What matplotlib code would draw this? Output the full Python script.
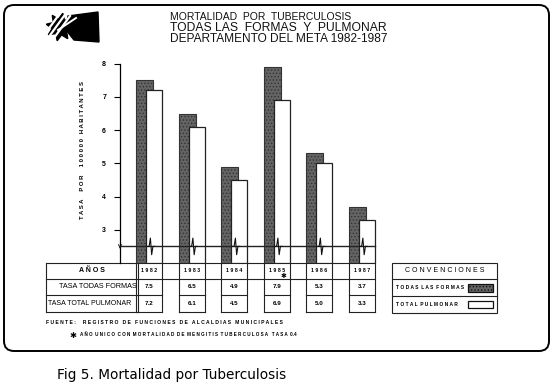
import matplotlib
matplotlib.use('Agg')
import matplotlib.pyplot as plt
from matplotlib.patches import FancyBboxPatch, Rectangle, Polygon
import numpy as np

# ---------------- data ----------------
years = ['1982', '1983', '1984', '1985', '1986', '1987']
tasa_todas = [7.5, 6.5, 4.9, 7.9, 5.3, 3.7]
tasa_pulmonar = [7.2, 6.1, 4.5, 6.9, 5.0, 3.3]
yticks = [3, 4, 5, 6, 7, 8]
title_lines = ['MORTALIDAD  POR  TUBERCULOSIS',
               'TODAS LAS  FORMAS  Y  PULMONAR',
               'DEPARTAMENTO DEL META 1982-1987']
row_labels = ['A Ñ O S', 'TASA TODAS FORMAS', 'TASA TOTAL PULMONAR']
legend_title = 'C O N V E N C I O N E S'
legend_labels = ['T O D A S  L A S  F O R M A S', 'T O T A L  P U L M O N A R']
ylabel = 'T A S A     P O R     1 0 0 0 0 0   H A B I T A N T E S'
fuente = 'F U E N T E :     R E G I S T R O   D E   F U N C I O N E S   D E   A L C A L D I A S   M U N I C I P A L E S'
nota = 'A Ñ O  U N I C O  C O N  M O R T A L I D A D  D E  M E N G I T I S  T U B E R C U L O S A   T A S A  0.4'
caption = 'Fig 5. Mortalidad por Tuberculosis'
star_year = '1985'

plt.rcParams['font.family'] = ['Liberation Sans', 'DejaVu Sans']

W, H = 552, 388
fig = plt.figure(figsize=(W / 100, H / 100), dpi=100)
fig.patch.set_facecolor('white')
ov = fig.add_axes([0, 0, 1, 1])
ov.set_xlim(0, W)
ov.set_ylim(H, 0)
ov.axis('off')

DARK = '#646464'
# ---------------- bar axes ----------------
ybase = 2.0
ax = fig.add_axes([120 / W, (H - 263) / H, (390 - 120) / W, (263 - 63.7) / H])
ax.set_xlim(-0.588, 5.765)
ax.set_ylim(ybase, 8.0)
ax.patch.set_alpha(0)
x = np.arange(len(years))
dw, wo, ww = 0.40, 0.215, 0.376
plt.rcParams['hatch.linewidth'] = 0.6
ax.bar(x, np.array(tasa_todas) - ybase, bottom=ybase, width=dw,
       facecolor=DARK, edgecolor='#333333', hatch='.....', linewidth=0.8, zorder=2)
ax.bar(x + wo, np.array(tasa_pulmonar) - ybase, bottom=ybase, width=ww,
       facecolor='white', edgecolor='#222222', linewidth=0.9, zorder=3)
for s in ['top', 'right', 'bottom']:
    ax.spines[s].set_visible(False)
ax.spines['left'].set_linewidth(0.9)
ax.set_yticks(yticks)
ax.set_yticklabels([str(t) for t in yticks], fontsize=5, fontweight='bold')
ax.tick_params(axis='y', length=4, width=0.8, pad=6)
ax.set_xticks([])
# axis break line and zigzags
ybr = 2.5
ax.plot([-0.588, x[-1] + wo + ww / 2], [ybr, ybr], color='#222222', lw=1.0, zorder=4, clip_on=False)
for xi in x:
    x0 = xi + wo - ww / 2 + 0.03
    ax.plot([x0, x0 + 0.04, x0 + 0.07, x0 + 0.10, x0 + 0.13, x0 + 0.17],
            [ybr, ybr, ybr + 0.25, ybr - 0.25, ybr, ybr], color='#111111', lw=0.8, zorder=5)
ax.plot([-0.62, -0.588, -0.556], [ybr + 0.05, ybr - 0.05, ybr + 0.05], color='#111111', lw=0.7, clip_on=False)


def to_ov(xd, yd):
    dx, dy = ax.transData.transform((xd, yd))
    return dx, H - dy


# ---------------- frame ----------------
ov.add_patch(FancyBboxPatch((4, 5), 545, 346, boxstyle='round,pad=0,rounding_size=10',
                            facecolor='none', edgecolor='black', linewidth=1.4))

# ---------------- logo ----------------
ov.add_patch(Polygon([(68, 16), (98, 12), (99, 42), (74, 40), (66, 30)], closed=True,
                     facecolor='black', edgecolor='black'))
star = []
for k in range(16):
    r = 14 if k % 2 == 0 else 8
    a = np.pi / 8 * k + 0.2
    star.append((60 + r * np.cos(a), 27 + r * np.sin(a)))
ov.add_patch(Polygon(star, closed=True, facecolor='black', edgecolor='black'))
for dxs in [-8, -2, 4]:
    ov.plot([50 + dxs, 66 + dxs], [38, 16], color='white', lw=1.6)
ov.plot([58, 76], [30, 18], color='white', lw=1.4)

# ---------------- titles ----------------
title_sizes = [7.5, 8.7, 8.6]
for i, t in enumerate(title_lines):
    ov.text(170, 17 + 11 * i, t, fontsize=title_sizes[i], ha='left', va='center', color='#111111')
ov.text(83, 150, ylabel, fontsize=4.3, rotation=90, ha='center', va='center', fontweight='bold')

# ---------------- table ----------------
rows_y = [263, 279, 295, 312]
lc = '#222222'
xl, xr_lab = 46, 138
right_end = to_ov(x[-1] + wo + ww / 2, ybase)[0]
for yy in rows_y[:2]:
    ov.plot([xl, right_end], [yy, yy], color=lc, lw=0.8)
for yy in rows_y[2:]:
    ov.plot([xl, xr_lab], [yy, yy], color=lc, lw=0.8)
ov.plot([xl, xl], [rows_y[0], rows_y[-1]], color=lc, lw=0.8)
ov.plot([xr_lab, xr_lab], [rows_y[0], rows_y[-1]], color=lc, lw=0.8)
ov.text(92, 271, row_labels[0], fontsize=5, ha='center', va='center', fontweight='bold')
ov.text(137, 287, row_labels[1], fontsize=5.2, ha='right', va='center')
ov.text(90, 303.5, row_labels[2], fontsize=5.0, ha='center', va='center')
for i, yr in enumerate(years):
    bl = to_ov(x[i] - dw / 2, ybase)[0]
    br = to_ov(x[i] + wo + ww / 2, ybase)[0]
    for xx in (bl, br):
        ov.plot([xx, xx], [rows_y[0], rows_y[-1]], color=lc, lw=0.8)
    for yy in rows_y[2:]:
        ov.plot([bl, br], [yy, yy], color=lc, lw=0.8)
    cx = (bl + br) / 2
    ov.text(cx, 271, ' '.join(yr), fontsize=3.8, ha='center', va='center', fontweight='bold')
    ov.text(cx, 287, '%.1f' % tasa_todas[i], fontsize=4.5, ha='center', va='center', fontweight='bold')
    ov.text(cx, 303.5, '%.1f' % tasa_pulmonar[i], fontsize=4.5, ha='center', va='center', fontweight='bold')
    if yr == star_year:
        ov.text(br - 6, 276, '✱', fontsize=5, ha='center', va='center', family='DejaVu Sans')

# ---------------- legend ----------------
lx0, lx1 = 392, 497
ly = [263, 279, 296, 313]
ov.add_patch(Rectangle((lx0, ly[0]), lx1 - lx0, ly[-1] - ly[0], facecolor='none', edgecolor=lc, lw=0.8))
for yy in ly[1:3]:
    ov.plot([lx0, lx1], [yy, yy], color=lc, lw=0.8)
ov.text((lx0 + lx1) / 2, 271, legend_title, fontsize=5, ha='center', va='center')
ov.text(396, 287.5, legend_labels[0], fontsize=3.5, ha='left', va='center', fontweight='bold')
ov.text(396, 304.5, legend_labels[1], fontsize=3.5, ha='left', va='center', fontweight='bold')
ov.add_patch(Rectangle((468, 283.5), 25, 8, facecolor=DARK, edgecolor='#111111', hatch='.....', lw=0.9))
ov.add_patch(Rectangle((468, 300.5), 25, 7, facecolor='white', edgecolor='#111111', lw=0.9))

# ---------------- footnotes ----------------
ov.text(46, 323, fuente, fontsize=3.6, ha='left', va='center', fontweight='bold')
ov.text(73, 335, '✱', fontsize=6, ha='center', va='center', family='DejaVu Sans')
ov.text(80, 335, nota, fontsize=3.3, ha='left', va='center', fontweight='bold')
ov.text(57, 375, caption, fontsize=9.8, ha='left', va='center', family='DejaVu Sans')

fig.savefig('out.png', dpi=100, facecolor='white')
